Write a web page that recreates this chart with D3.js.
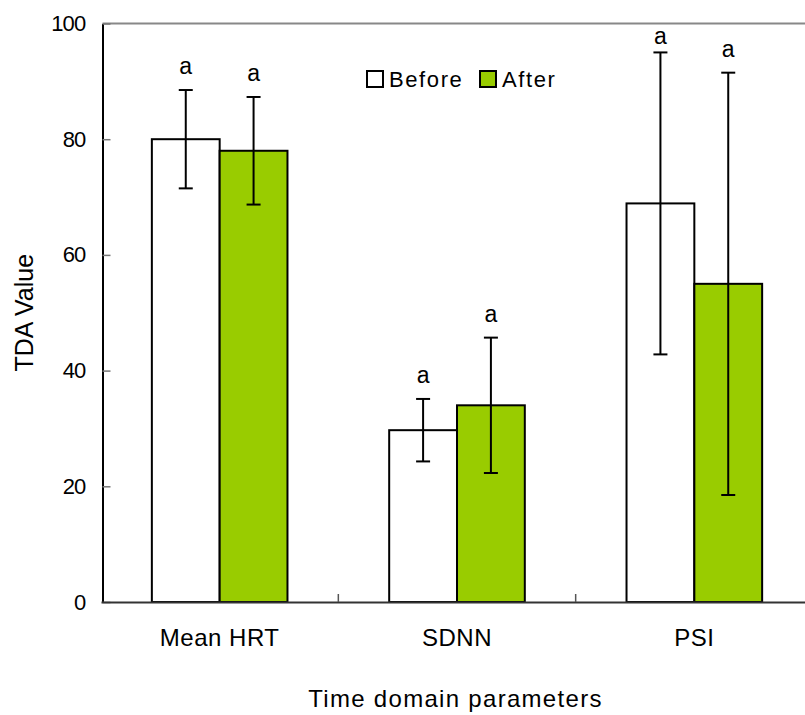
<!DOCTYPE html>
<html>
<head>
<meta charset="utf-8">
<script src="https://cdn.jsdelivr.net/npm/d3@7"></script>
<style>
  html, body { margin: 0; padding: 0; background: #fff; }
  svg { display: block; font-family: "Liberation Sans", Arial, sans-serif; }
</style>
</head>
<body>
<svg id="chart" width="805" height="715"></svg>
<script>
// Time-domain HRV parameters, before vs after
const categories = ["Mean HRT", "SDNN", "PSI"];
const seriesNames = ["Before", "After"];
const beforeMeans = [80.0, 29.7, 68.9];
const beforeErrors = [8.5, 5.4, 26.1];
const afterMeans = [78.0, 34.0, 55.0];
const afterErrors = [9.3, 11.7, 36.5];
const beforeLetters = ["a", "a", "a"];
const afterLetters = ["a", "a", "a"];
const yTicks = [0, 20, 40, 60, 80, 100];
const seriesColors = ["#ffffff", "#99cc00"];

const svg = d3.select("#chart");
const margin = { left: 102.5, top: 23.5, right: 813, bottom: 602 };

const x = d3.scaleBand().domain(categories).range([101, margin.right]).padding(0);
const xs = d3.scaleBand().domain(seriesNames).range([0, x.bandwidth()])
  .paddingInner(0).paddingOuter(0.75);
const y = d3.scaleLinear().domain([0, 100]).range([margin.bottom, margin.top]);

const rows = [];
categories.forEach((c, i) => {
  rows.push({ cat: c, s: "Before", v: beforeMeans[i], e: beforeErrors[i], lab: beforeLetters[i], fill: seriesColors[0] });
  rows.push({ cat: c, s: "After", v: afterMeans[i], e: afterErrors[i], lab: afterLetters[i], fill: seriesColors[1] });
});

// top frame line
svg.append("line")
  .attr("x1", margin.left).attr("x2", 816)
  .attr("y1", y(100)).attr("y2", y(100))
  .attr("stroke", "#888").attr("stroke-width", 2);

// bars
svg.append("g").selectAll("rect").data(rows).join("rect")
  .attr("x", d => x(d.cat) + xs(d.s))
  .attr("y", d => y(d.v))
  .attr("width", xs.bandwidth())
  .attr("height", d => y(0) - y(d.v))
  .attr("fill", d => d.fill)
  .attr("stroke", "#000")
  .attr("stroke-width", 2);

// error bars
const eb = svg.append("g").attr("stroke", "#000").attr("stroke-width", 2);
rows.forEach(d => {
  const cx = x(d.cat) + xs(d.s) + xs.bandwidth() / 2;
  eb.append("line").attr("x1", cx).attr("x2", cx).attr("y1", y(d.v + d.e)).attr("y2", y(d.v - d.e));
  eb.append("line").attr("x1", cx - 7).attr("x2", cx + 7).attr("y1", y(d.v + d.e)).attr("y2", y(d.v + d.e));
  eb.append("line").attr("x1", cx - 7).attr("x2", cx + 7).attr("y1", y(d.v - d.e)).attr("y2", y(d.v - d.e));
});

// significance letters
svg.append("g").selectAll("text").data(rows).join("text")
  .attr("x", d => x(d.cat) + xs(d.s) + xs.bandwidth() / 2)
  .attr("y", d => Math.max(y(d.v + d.e) - 16, margin.top + 20))
  .attr("text-anchor", "middle")
  .attr("font-size", 23)
  .attr("fill", "#000")
  .text(d => d.lab);

// y axis
const yAxis = svg.append("g")
  .attr("transform", `translate(${margin.left},0)`)
  .call(d3.axisLeft(y).tickValues(yTicks).tickSize(-8).tickSizeOuter(0).tickPadding(17).tickFormat(d3.format("d")));
yAxis.select(".domain").attr("stroke", "#000").attr("stroke-width", 2);
yAxis.selectAll(".tick line").attr("stroke", "#777").attr("stroke-width", 1.5);
yAxis.selectAll(".tick text").attr("font-size", 22).attr("fill", "#000")
  .attr("letter-spacing", -0.8).attr("font-family", "Liberation Sans, Arial, sans-serif");

// x axis with category separators
const xAxis = svg.append("g")
  .attr("transform", `translate(0,${margin.bottom})`)
  .call(d3.axisBottom(x).tickSize(0).tickPadding(27));
xAxis.select(".domain").attr("stroke", "#333").attr("stroke-width", 2);
xAxis.selectAll(".tick text").attr("font-size", 24).attr("fill", "#000")
  .attr("letter-spacing", 0.5).attr("font-family", "Liberation Sans, Arial, sans-serif");
const seps = categories.slice(1).map(c => x(c));
xAxis.selectAll(".sep").data(seps).join("line").attr("class", "sep")
  .attr("x1", d => d).attr("x2", d => d).attr("y1", 0).attr("y2", -8)
  .attr("stroke", "#555").attr("stroke-width", 1.5);

// axis titles
svg.append("text")
  .attr("transform", `translate(33,${(margin.top + margin.bottom) / 2}) rotate(-90)`)
  .attr("text-anchor", "middle").attr("font-size", 25).attr("fill", "#000")
  .text("TDA Value");
svg.append("text")
  .attr("x", 455.5).attr("y", 707)
  .attr("text-anchor", "middle").attr("font-size", 24).attr("letter-spacing", 1.3).attr("fill", "#000")
  .text("Time domain parameters");

// legend
const legend = svg.append("g").attr("transform", "translate(367,71)");
const legendItems = [
  { name: seriesNames[0], color: seriesColors[0], dx: 0 },
  { name: seriesNames[1], color: seriesColors[1], dx: 113 }
];
legendItems.forEach(it => {
  const g = legend.append("g").attr("transform", `translate(${it.dx},0)`);
  g.append("rect").attr("x", 0).attr("y", 0).attr("width", 16).attr("height", 16)
    .attr("fill", it.color).attr("stroke", "#000").attr("stroke-width", 2);
  g.append("text").attr("x", 22).attr("y", 15.5)
    .attr("font-size", 22).attr("letter-spacing", 1.6).attr("fill", "#000")
    .text(it.name);
});
</script>
</body>
</html>
